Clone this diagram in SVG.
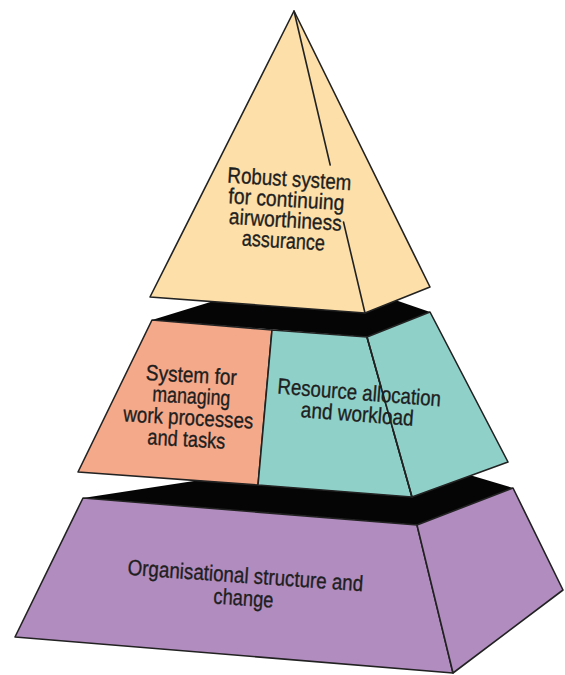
<svg xmlns="http://www.w3.org/2000/svg" width="565" height="675" viewBox="0 0 565 675">
<style>
.face{stroke:#222;stroke-width:1.6;stroke-linejoin:round}
.edge{stroke:#222;stroke-width:1.6;fill:none;stroke-linecap:round}
.top{fill:#050505}
.yel{fill:#FCDFA9}
.sal{fill:#F4A98B}
.teal{fill:#8FD1C9}
.pur{fill:#B18CBF}
.lbl{font-family:"Liberation Sans",Arial,sans-serif;font-size:22px;fill:#1e1e1e;stroke:#1e1e1e;stroke-width:0.35;text-anchor:middle}
</style>
<rect width="565" height="675" fill="#ffffff"/>
<g id="tier-bottom">
<polygon class="top" points="83,498 389,451 513,488 417,525"/>
<polygon class="face pur" points="83,498 417,525 453,673 15,637"/>
<polygon class="face pur" points="417,525 513,488 563,590 453,673"/>
<text class="lbl" x="245" y="583" textLength="236" lengthAdjust="spacingAndGlyphs" transform="rotate(4 245 583)">Organisational structure and</text>
<text class="lbl" x="243" y="605.5" textLength="60" lengthAdjust="spacingAndGlyphs" transform="rotate(4 243 605.5)">change</text>
</g>
<g id="tier-middle-top">
<polygon class="top" points="152,320 311,271 430,312 367,337"/>
</g>
<g id="tier-middle-left">
<polygon class="face sal" points="152,320 272,330 258,485 78,472"/>
<text class="lbl" x="191" y="382.5" textLength="91" lengthAdjust="spacingAndGlyphs" transform="rotate(3.2 191 382.5)">System for</text>
<text class="lbl" x="191" y="403.5" textLength="78" lengthAdjust="spacingAndGlyphs" transform="rotate(3.2 191 403.5)">managing</text>
<text class="lbl" x="188" y="425" textLength="130" lengthAdjust="spacingAndGlyphs" transform="rotate(3.2 188 425)">work processes</text>
<text class="lbl" x="186" y="446.5" textLength="78" lengthAdjust="spacingAndGlyphs" transform="rotate(3.2 186 446.5)">and tasks</text>
</g>
<g id="tier-middle-right">
<polygon class="face teal" points="272,330 367,337 412,497 258,485"/>
<polygon class="face teal" points="367,337 430,312 508,462 412,497"/>
<line class="edge" x1="367" y1="337" x2="381" y2="387"/>
<line class="edge" x1="393" y1="430" x2="412" y2="497"/>
<text class="lbl" x="358.7" y="400" textLength="164" lengthAdjust="spacingAndGlyphs" transform="rotate(4.5 358.7 400)">Resource allocation</text>
<text class="lbl" x="356.7" y="421.5" textLength="113" lengthAdjust="spacingAndGlyphs" transform="rotate(4.5 356.7 421.5)">and workload</text>
</g>
<g id="tier-top">
<polygon class="face yel" points="294,11 430,287 365,313 150,297"/>
<line class="edge" x1="294" y1="11" x2="330.2" y2="165"/>
<line class="edge" x1="343.5" y1="222" x2="365" y2="313"/>
<text class="lbl" x="289" y="186.3" textLength="124" lengthAdjust="spacingAndGlyphs" transform="rotate(3.5 289 186.3)">Robust system</text>
<text class="lbl" x="286" y="206.8" textLength="116" lengthAdjust="spacingAndGlyphs" transform="rotate(3.5 286 206.8)">for continuing</text>
<text class="lbl" x="285" y="227.3" textLength="113" lengthAdjust="spacingAndGlyphs" transform="rotate(3.5 285 227.3)">airworthiness</text>
<text class="lbl" x="283" y="248" textLength="83" lengthAdjust="spacingAndGlyphs" transform="rotate(3.5 283 248)">assurance</text>
</g>
</svg>
